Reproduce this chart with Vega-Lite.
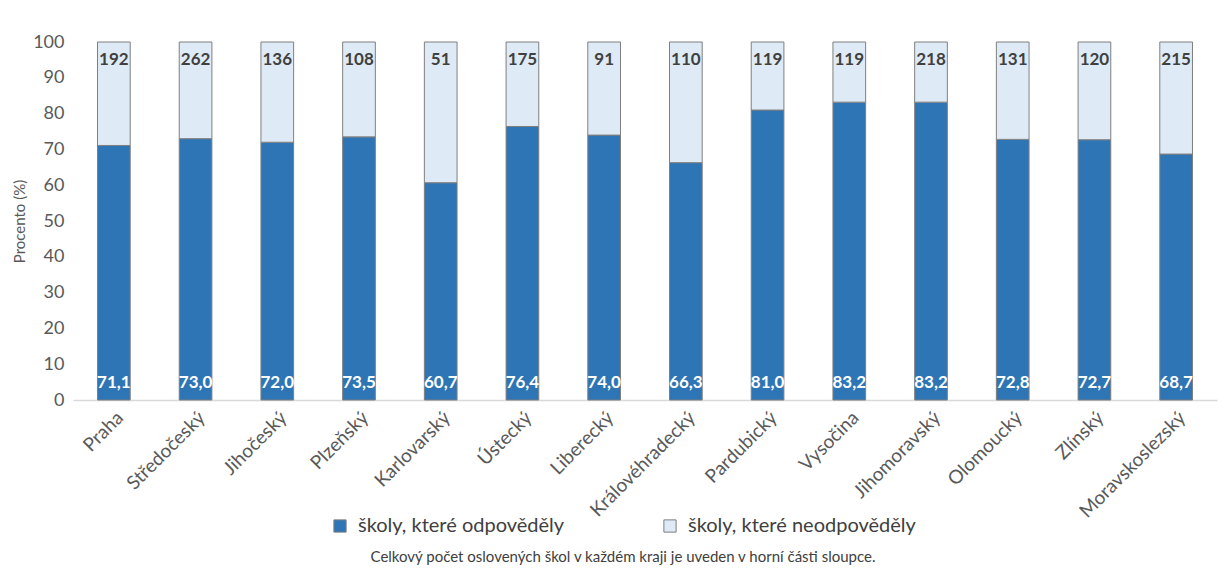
{
  "$schema": "https://vega.github.io/schema/vega-lite/v6.json",
  "width": 1144,
  "height": 358,
  "autosize": {"type": "none"},
  "padding": {"left": 73, "top": 42, "right": 5, "bottom": 175},
  "background": "white",
  "config": {
    "locale": {"number": {"decimal": ",", "thousands": " ", "grouping": [3], "currency": ["", " Kč"]}},
    "font": "Lato",
    "view": {"stroke": null}
  },
  "title": {
    "text": "Celkový počet oslovených škol v každém kraji je uveden v horní části sloupce.",
    "orient": "bottom",
    "anchor": "middle",
    "fontSize": 15,
    "fontWeight": "normal",
    "color": "#404040",
    "dx": -22,
    "offset": 14
  },
  "data": {
    "values": [
      {"kraj": "Praha", "odpovedelo": 71.1, "celkem": 192},
      {"kraj": "Středočeský", "odpovedelo": 73.0, "celkem": 262},
      {"kraj": "Jihočeský", "odpovedelo": 72.0, "celkem": 136},
      {"kraj": "Plzeňský", "odpovedelo": 73.5, "celkem": 108},
      {"kraj": "Karlovarský", "odpovedelo": 60.7, "celkem": 51},
      {"kraj": "Ústecký", "odpovedelo": 76.4, "celkem": 175},
      {"kraj": "Liberecký", "odpovedelo": 74.0, "celkem": 91},
      {"kraj": "Královéhradecký", "odpovedelo": 66.3, "celkem": 110},
      {"kraj": "Pardubický", "odpovedelo": 81.0, "celkem": 119},
      {"kraj": "Vysočina", "odpovedelo": 83.2, "celkem": 119},
      {"kraj": "Jihomoravský", "odpovedelo": 83.2, "celkem": 218},
      {"kraj": "Olomoucký", "odpovedelo": 72.8, "celkem": 131},
      {"kraj": "Zlínský", "odpovedelo": 72.7, "celkem": 120},
      {"kraj": "Moravskoslezský", "odpovedelo": 68.7, "celkem": 215}
    ]
  },
  "encoding": {
    "x": {
      "field": "kraj",
      "type": "nominal",
      "sort": null,
      "scale": {"paddingInner": 0.6, "paddingOuter": 0.3},
      "axis": {
        "title": null,
        "labelAngle": -45,
        "labelFontSize": 19,
        "labelColor": "#595959",
        "ticks": false,
        "domainColor": "#D9D9D9",
        "domainWidth": 1.5,
        "labelPadding": 8,
        "labelOverlap": false
      }
    },
    "y": {
      "field": "odpovedelo",
      "type": "quantitative",
      "scale": {"domain": [0, 100], "nice": false},
      "axis": {
        "title": "Procento (%)",
        "titleFontSize": 15,
        "titleFontWeight": "normal",
        "titleColor": "#595959",
        "titlePadding": 5,
        "values": [0, 10, 20, 30, 40, 50, 60, 70, 80, 90, 100],
        "tickCount": 11,
        "labelOverlap": false,
        "ticks": false,
        "domain": false,
        "grid": false,
        "labelFontSize": 18,
        "labelColor": "#595959",
        "labelPadding": 9
      }
    }
  },
  "layer": [
    {
      "mark": {"type": "bar", "stroke": "#7F7F7F", "strokeWidth": 1},
      "encoding": {
        "color": {
          "datum": "školy, které odpověděly",
          "type": "nominal",
          "scale": {
            "domain": ["školy, které odpověděly", "školy, které neodpověděly"],
            "range": ["#2E75B6", "#DEEBF7"]
          },
          "legend": {
            "orient": "none",
            "direction": "horizontal",
            "legendX": 257,
            "legendY": 474,
            "title": null,
            "symbolType": "square",
            "symbolSize": 150,
            "symbolStrokeColor": "#7F7F7F",
            "symbolStrokeWidth": 1,
            "labelFontSize": 20,
            "labelColor": "#404040",
            "labelOffset": 8,
            "columnPadding": 95,
            "labelLimit": 400
          }
        }
      }
    },
    {
      "mark": {"type": "bar", "stroke": "#7F7F7F", "strokeWidth": 1},
      "encoding": {
        "y2": {"datum": 100},
        "color": {"datum": "školy, které neodpověděly", "type": "nominal"}
      }
    },
    {
      "mark": {"type": "text", "fontSize": 17, "fontWeight": "bold", "color": "#404040", "baseline": "middle"},
      "encoding": {
        "y": {"datum": 95},
        "text": {"field": "celkem", "type": "quantitative"}
      }
    },
    {
      "mark": {"type": "text", "fontSize": 17, "fontWeight": "bold", "color": "#FFFFFF", "baseline": "middle"},
      "encoding": {
        "y": {"datum": 4.7},
        "text": {"field": "odpovedelo", "type": "quantitative", "format": ".1f"}
      }
    }
  ]
}
